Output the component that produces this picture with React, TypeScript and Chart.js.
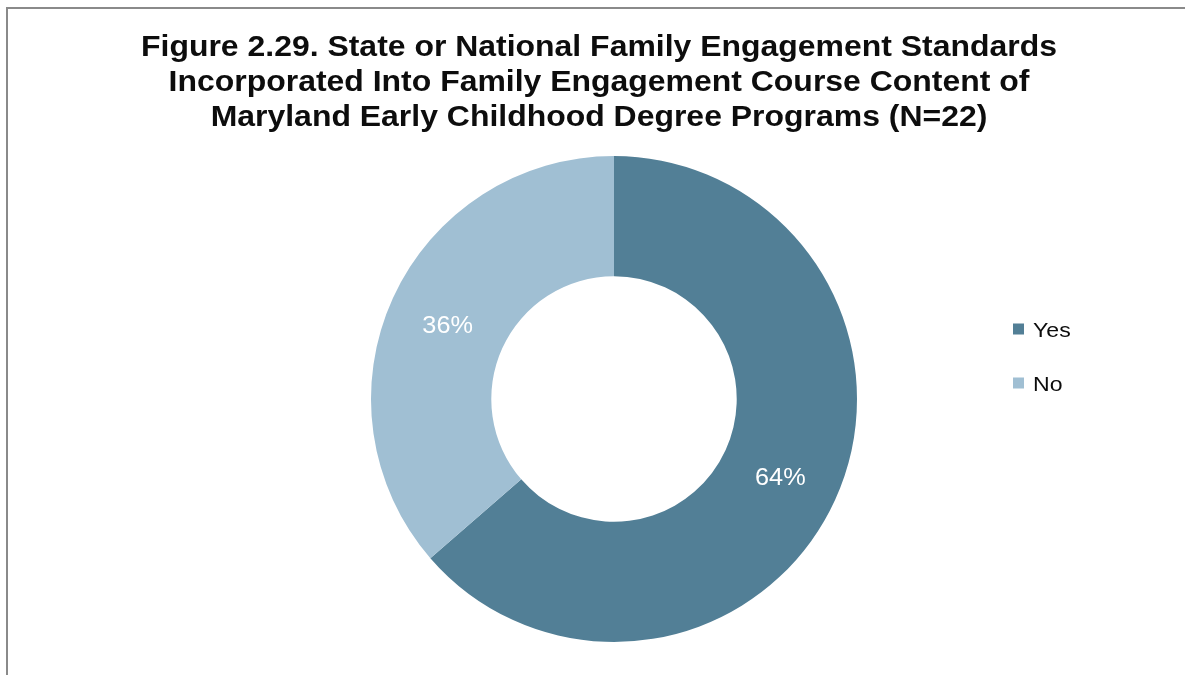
import React, { useEffect, useRef } from "react";
import { Chart, registerables } from "chart.js";

Chart.register(...registerables);

const titleLines = [
  "Figure 2.29. State or National Family Engagement Standards",
  "Incorporated Into Family Engagement Course Content of",
  "Maryland Early Childhood Degree Programs (N=22)",
];
const categories = ["Yes", "No"];
const counts = [14, 8];
const percentLabels = ["64%", "36%"];
const colors = ["#527F96", "#A0BFD3"];

const W = 1185;
const H = 675;
const FONT = "'Liberation Sans', Arial, sans-serif";
const STRETCH = 1.1;

function drawStretched(ctx: CanvasRenderingContext2D, text: string, x: number, y: number, align: "left" | "center", sx: number) {
  ctx.save();
  ctx.translate(x, y);
  ctx.scale(sx, 1);
  ctx.textAlign = align;
  ctx.fillText(text, 0, 0);
  ctx.restore();
}

const titlePlugin = {
  id: "customTitle",
  afterDraw(chart: any) {
    const ctx = chart.ctx as CanvasRenderingContext2D;
    ctx.save();
    ctx.fillStyle = "#0d0d0d";
    ctx.font = `bold 29px ${FONT}`;
    ctx.textBaseline = "alphabetic";
    const w0 = ctx.measureText(titleLines[0]).width;
    const sx = 916 / w0;
    titleLines.forEach((line, i) => {
      drawStretched(ctx, line, 599, 55.5 + i * 35, "center", sx);
    });
    ctx.restore();
  },
};

const legendPlugin = {
  id: "customLegend",
  afterDraw(chart: any) {
    const ctx = chart.ctx as CanvasRenderingContext2D;
    const labels = chart.data.labels as string[];
    const bg = chart.data.datasets[0].backgroundColor as string[];
    ctx.save();
    ctx.font = `21px ${FONT}`;
    ctx.textBaseline = "alphabetic";
    labels.forEach((lab, i) => {
      const cy = 329 + i * 54;
      ctx.fillStyle = bg[i];
      ctx.fillRect(1013, cy - 5.5, 11, 11);
      ctx.fillStyle = "#0d0d0d";
      drawStretched(ctx, lab, 1033, cy + 8, "left", 1.1);
    });
    ctx.restore();
  },
};

const dataLabelPlugin = {
  id: "sliceLabels",
  afterDatasetsDraw(chart: any) {
    const ctx = chart.ctx as CanvasRenderingContext2D;
    const meta = chart.getDatasetMeta(0);
    ctx.save();
    ctx.fillStyle = "#ffffff";
    ctx.font = `23px ${FONT}`;
    ctx.textBaseline = "alphabetic";
    meta.data.forEach((arc: any, i: number) => {
      const p = arc.tooltipPosition();
      drawStretched(ctx, percentLabels[i], p.x, p.y + 10, "center", STRETCH);
    });
    ctx.restore();
  },
};

export default function App() {
  const ref = useRef<HTMLCanvasElement>(null);
  useEffect(() => {
    if (!ref.current) return;
    const chart = new Chart(ref.current, {
      type: "doughnut",
      data: {
        labels: categories,
        datasets: [
          {
            data: counts,
            backgroundColor: colors,
            borderWidth: 0,
          },
        ],
      },
      options: {
        responsive: false,
        animation: false,
        cutout: "50.5%",
        rotation: 0,
        layout: { padding: { left: 371, right: 1185 - 857, top: 156, bottom: 675 - 642 } },
        plugins: {
          legend: { display: false },
          title: { display: false },
          tooltip: { enabled: false },
        },
      },
      plugins: [titlePlugin, legendPlugin, dataLabelPlugin],
    });
    let alive = true;
    const fonts: any = (document as any).fonts;
    if (fonts && fonts.load) {
      Promise.all([
        fonts.load(`bold 29px 'Liberation Sans'`),
        fonts.load(`21px 'Liberation Sans'`),
      ])
        .catch(() => null)
        .then(() => {
          if (alive) chart.update();
        });
    }
    return () => {
      alive = false;
      chart.destroy();
    };
  }, []);
  return (
    <div style={{ position: "fixed", left: 0, top: 0, width: W, height: H, background: "#fff", overflow: "hidden" }}>
      <div
        style={{
          position: "absolute",
          left: 6,
          top: 7,
          width: W,
          height: H,
          borderLeft: "2px solid #8a8a8a",
          borderTop: "2px solid #8a8a8a",
        }}
      />
      <canvas ref={ref} width={W} height={H} style={{ position: "absolute", left: 0, top: 0 }} />
    </div>
  );
}
